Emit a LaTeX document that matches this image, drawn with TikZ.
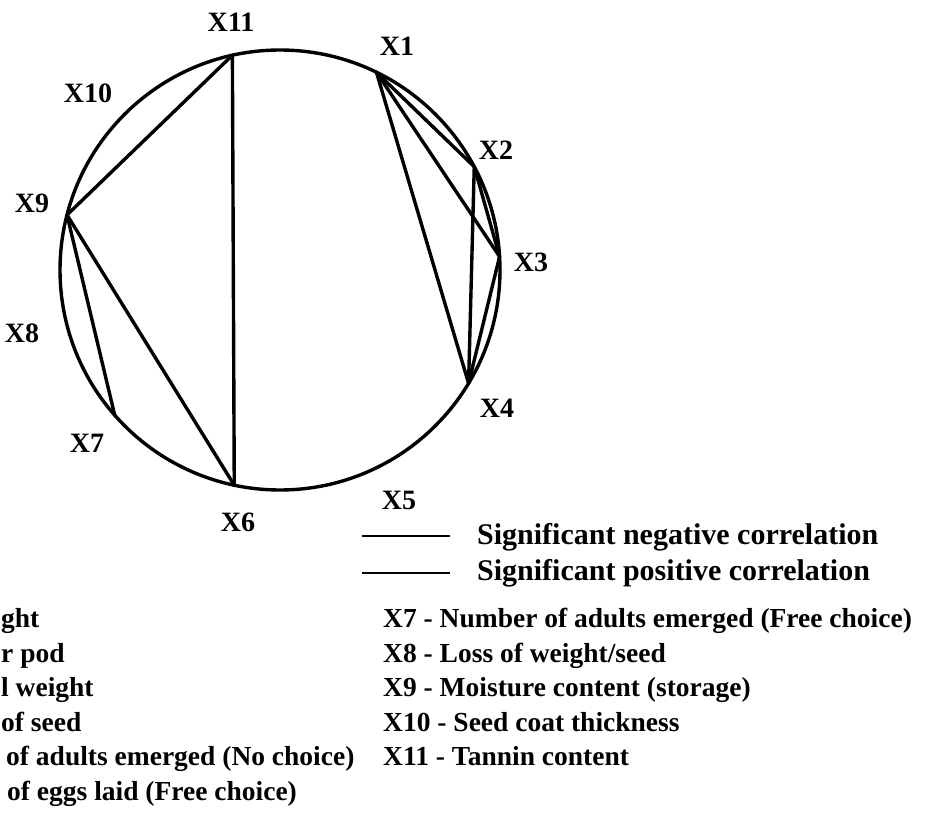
\documentclass[tikz,border=0pt]{standalone}
\usepackage{fontspec}
\setmainfont{Liberation Serif}
\usepackage{tikz}
\usetikzlibrary{calc}

\begin{document}
\begin{tikzpicture}[x=1pt,y=-1pt,
  lab/.style={font=\fontsize{28}{30}\selectfont\bfseries,inner sep=0pt},
  leg/.style={font=\fontsize{30}{32}\selectfont\bfseries,anchor=base west,inner sep=0pt},
  key/.style={font=\fontsize{27.5}{30}\selectfont\bfseries,anchor=base west,inner sep=0pt},
  corr/.style={line width=3.4pt,line cap=round,line join=round}]
  \useasboundingbox (0,0) rectangle (937,814);
  % circle with the eleven traits
  \coordinate (c) at (280,270);
  \draw[line width=3.4pt] (c) circle[radius=220];
  \foreach \n/\a in {x11/102.5,x1/64,x2/28,x3/3.5,x4/-31,x6/-102,x7/-138.7,x9/165.5}
    \coordinate (\n) at ($(c)+(\a:220 and -220)$);
  \node[lab] (l11) at (231,22) {X11};
  \node[lab] (l1) at (397,46) {X1};
  \node[lab] (l2) at (496,150) {X2};
  \node[lab] (l3) at (531,262) {X3};
  \node[lab] (l4) at (497,408) {X4};
  \node[lab] (l5) at (399,500) {X5};
  \node[lab] (l6) at (238,522) {X6};
  \node[lab] (l7) at (87,443) {X7};
  \node[lab] (l8) at (22,333) {X8};
  \node[lab] (l9) at (32,203) {X9};
  \node[lab] (l10) at (88,93) {X10};
  % correlations
  \draw[corr] (x1) -- (x2);
  \draw[corr] (x1) -- (x3);
  \draw[corr] (x1) -- (x4);
  \draw[corr] (x2) -- (x3);
  \draw[corr] (x2) -- (x4);
  \draw[corr] (x3) -- (x4);
  \draw[corr] (x11) -- (x6);
  \draw[corr] (x9) -- (x11);
  \draw[corr] (x9) -- (x6);
  \draw[corr] (x9) -- (x7);
  % legend
  \coordinate (n0) at (362,536);
  \coordinate (n1) at (450,536);
  \coordinate (p0) at (362,573);
  \coordinate (p1) at (450,573);
  \draw[line width=2.8pt] (n0) -- (n1);
  \draw[line width=2.8pt] (p0) -- (p1);
  \node[leg] (neg) at (477,544) {Significant negative correlation};
  \node[leg] (pos) at (477,580) {Significant positive correlation};
  % key
  \node[key] (k1) at (1,627) {ght};
  \node[key] (k2) at (1,662) {r pod};
  \node[key] (k3) at (1,696) {l weight};
  \node[key] (k4) at (1,731) {of seed};
  \node[key] (k5) at (6,765) {of adults emerged (No choice)};
  \node[key] (k6) at (7,800) {of eggs laid (Free choice)};
  \node[key] (k7) at (383,627) {X7 - Number of adults emerged (Free choice)};
  \node[key] (k8) at (383,662) {X8 - Loss of weight/seed};
  \node[key] (k9) at (383,696) {X9 - Moisture content (storage)};
  \node[key] (k10) at (383,731) {X10 - Seed coat thickness};
  \node[key] (k11) at (383,765) {X11 - Tannin content};
\end{tikzpicture}
\end{document}
